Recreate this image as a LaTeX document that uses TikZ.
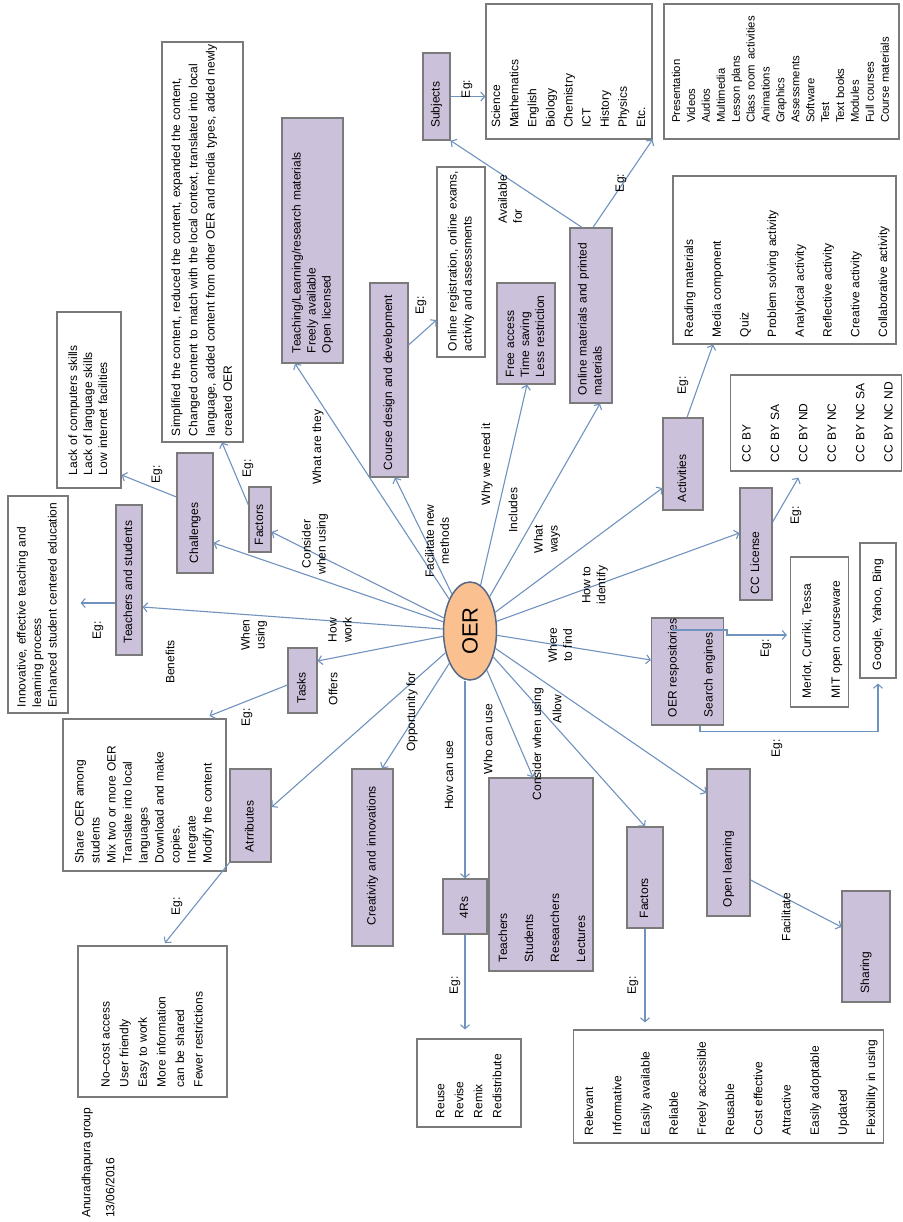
\documentclass[tikz,border=0pt]{standalone}
\usepackage{fontspec}
\setmainfont{Liberation Sans}
\usetikzlibrary{shapes.geometric,arrows.meta}
\definecolor{lav}{RGB}{204,193,218}
\definecolor{bordc}{RGB}{122,122,122}
\definecolor{arrc}{RGB}{112,146,190}
\definecolor{oerfill}{RGB}{250,192,144}
\definecolor{oerline}{RGB}{85,105,135}
\newcommand{\tl}[1]{\noindent\begin{tabular}{@{}l@{}}#1\end{tabular}}
\begin{document}
\begin{tikzpicture}[x=1pt,y=-1pt,
  base/.style={rotate=90, inner ysep=0pt, align=left, font=\fontsize{12}{15}\selectfont},
  pbox/.style={base, draw=bordc, fill=lav, line width=1.2pt},
  wbox/.style={base, draw=bordc, fill=white, line width=1.1pt},
  lbl/.style={rotate=90, inner sep=0pt, align=center, font=\fontsize{12}{15}\selectfont},
  arr/.style={draw=arrc, line width=1.1pt, -{Straight Barb[length=4pt,width=9pt]}},
  sz/.style n args={4}{minimum width=#1pt, minimum height=#2pt, inner xsep=#3pt, text width=#4pt},
]
\useasboundingbox (0,0) rectangle (902,1222);

% ---------- central node
\node[ellipse, draw=oerline, fill=oerfill, line width=1.5pt, minimum width=53pt, minimum height=98pt, inner sep=0pt] (oer) at (470,631) {\rotatebox{90}{\fontsize{22}{22}\selectfont OER}};

% ---------- purple boxes
\node[pbox, sz={245}{61}{10}{225}] (tlr) at (312.5,240.5) {\tl{Teaching/Learning/research materials\\Freely available\\Open licensed}};
\node[pbox, sz={194}{38}{7}{180}] (cdd) at (389,380) {\tl{Course design and development}};
\node[pbox, sz={101}{58}{7}{87}] (fa) at (526,333.5) {\tl{Free access\\Time saving\\Less restriction}};
\node[pbox, sz={175}{42}{8}{159}] (omp) at (591,315.5) {\tl{Online materials and printed\\materials}};
\node[pbox, sz={87}{27}{12}{63}] (subj) at (436.5,96.5) {\tl{Subjects}};
\node[pbox, sz={92}{40}{8}{76}] (act) at (683,464) {\tl{Activities}};
\node[pbox, sz={112}{32}{6}{100}] (ccl) at (756,544) {\tl{CC License}};
\node[pbox, sz={107}{69}{8}{91}, font=\fontsize{12}{36}\selectfont] (oerr) at (687.5,671.5) {\tl{OER respositories\\Search engines}};
\node[pbox, sz={147}{43}{9}{129}] (ol) at (728.5,842.5) {\tl{Open learning}};
\node[pbox, sz={101}{36}{10}{81}] (fac2) at (645,877.5) {\tl{Factors}};
\node[pbox, sz={111}{48}{9}{93}] (sh) at (866,946.5) {\tl{Sharing}};
\node[pbox, sz={193}{104}{9}{175}, font=\fontsize{12}{26}\selectfont] (who) at (541,874.5) {\tl{Teachers\\Students\\Researchers\\Lectures}};
\node[pbox, sz={55}{44}{16}{23}] (r4) at (465,906.5) {\tl{4Rs}};
\node[pbox, sz={177}{41}{21}{135}] (cre) at (372.5,857.5) {\tl{Creativity and innovations}};
\node[pbox, sz={93}{41}{10}{73}] (att) at (250.5,815.5) {\tl{Atrributes}};
\node[pbox, sz={65}{29}{10}{45}] (tasks) at (302.5,680.5) {\tl{Tasks}};
\node[pbox, sz={150}{26}{12}{126}] (ts) at (129,580) {\tl{Teachers and students}};
\node[pbox, sz={120}{36}{10}{100}] (chal) at (195,513) {\tl{Challenges}};
\node[pbox, sz={65}{22}{7}{51}] (fac1) at (260,519.5) {\tl{Factors}};

% ---------- white boxes
\node[wbox, sz={400}{81}{6}{388}, font=\fontsize{12}{17.3}\selectfont] (sa) at (202.5,242) {\tl{Simplified the content, reduced the content, expanded the content,\\Changed content to match with the local context, translated into local\\language, added content from other OER and media types, added newly\\created OER}};
\node[wbox, sz={176}{64}{13}{150}] (lb) at (89,400) {\tl{Lack of computers skills\\Lack of language skills\\Low internet facilities}};
\node[wbox, sz={217}{60}{6}{205}, font=\fontsize{12}{15.5}\selectfont] (inn) at (38,604.5) {\tl{Innovative, effective teaching and\\learning process\\Enhanced student centered education}};
\node[wbox, sz={152}{163}{8}{136}, font=\fontsize{12}{16}\selectfont] (dl) at (144.5,795) {\tl{Share OER among\\students\\Mix two or more OER\\Translate into local\\languages\\Download and make\\copies.\\Integrate\\Modify the content}};
\node[wbox, sz={151}{149}{10}{131}, font=\fontsize{12}{18.6}\selectfont] (el) at (152.5,1021.5) {\tl{No–cost access\\User friendly\\Easy to work\\More information\\can be shared\\Fewer restrictions}};
\node[wbox, sz={88}{104}{9}{70}, font=\fontsize{12}{19}\selectfont] (gl) at (469,1083) {\tl{Reuse\\Revise\\Remix\\Redistribute}};
\node[wbox, sz={113}{309}{8}{97}, font=\fontsize{12}{28.2}\selectfont] (hl) at (728.5,1086.5) {\tl{Relevant\\Informative\\Easily available\\Reliable\\Freely accessible\\Reusable\\Cost effective\\Attractive\\Easily adoptable\\Updated\\Flexibility in using}};
\node[wbox, sz={190}{48}{6}{178}] (rl) at (461,262) {\tl{Online registration, online exams,\\activity and assessments}};
\node[wbox, sz={135}{166}{11}{113}, font=\fontsize{12}{18.1}\selectfont] (sl) at (569,71.5) {\tl{Science\\Mathematics\\English\\Biology\\Chemistry\\ICT\\History\\Physics\\Etc.}};
\node[wbox, sz={135}{235}{16}{103}, font=\fontsize{11.3}{14.9}\selectfont] (ml) at (781.5,71.5) {\tl{Presentation\\Videos\\Audios\\Multimedia\\Lesson plans\\Class room\hspace{2pt} activities\\Animations\\Graphics\\Assessments\\Software\\Test\\Text books\\Modules\\Full courses\\Course materials}};
\node[wbox, sz={168}{223}{7}{154}, font=\fontsize{12}{27.7}\selectfont] (al) at (784.5,260) {\tl{Reading materials\\Media component\\Quiz\\Problem solving activity\\Analytical activity\\Reflective activity\\Creative activity\\Collaborative activity}};
\node[wbox, sz={96}{162}{9}{78}, font=\fontsize{12}{28.4}\selectfont] (cl) at (816,423) {\tl{CC BY\\CC BY SA\\CC BY ND\\CC BY NC\\CC BY NC SA\\CC BY NC ND}};
\node[wbox, sz={150}{57}{9}{132}, font=\fontsize{12}{29}\selectfont] (mer) at (819.5,632) {\tl{Merlot, Curriki, Tessa\\MIT open courseware}};
\node[wbox, sz={135}{36}{8}{119}] (gy) at (878,610.5) {\tl{Google, Yahoo, Bing}};

% ---------- connectors from OER
\draw[arr] (oer) -- (chal.south |- 0,543);
\draw[arr] (oer) -- (fac1.south |- 0,532);
\draw[arr] (oer) -- (tlr.west -| 295,0);
\draw[arr] (oer) -- (cdd.west -| 395,0);
\draw[arr] (oer) -- (fa.west -| 527,0);
\draw[arr] (oer) -- (omp.west -| 600,0);
\draw[arr] (oer) -- (act.north |- 0,488);
\draw[arr] (oer) -- (ccl.north |- 0,533);
\draw[arr] (oer) -- (oerr.north |- 0,660);
\draw[arr] (oer) -- (ol.north |- 0,793);
\draw[arr] (oer) -- (fac2.east -| 645,0);
\draw[arr] (oer) -- (who.east -| 533,0);
\draw[arr] (oer.south -| r4.east) -- (r4.east);
\draw[arr] (oer) -- (cre.east -| 382,0);
\draw[arr] (oer) -- (att.south |- 0,807);
\draw[arr] (oer) -- (tasks.south |- 0,661);
\draw[arr] (oer) -- (ts.south |- 0,607);

% ---------- secondary connectors
\draw[arr, shorten >=12pt] (ts.north |- 0,603) -- (inn.south |- 0,603);
\draw[arr] (chal.north |- 0,497) -- (lb.south |- 0,475);
\draw[arr] (fac1.north |- 0,505) -- (sa.west -| 222,0);
\draw[arr] (cdd.south |- 0,345) -- (rl.north |- 0,320);
\draw[arr] (omp.east -| 582,0) -- (subj.south west);
\draw[arr] (omp.east -| 593,0) -- (sl.south west);
\draw[arr] (subj.south) -- (sl.north |- subj.south);
\draw[arr] (act.east -| 687,0) -- (al.west -| 713,0);
\draw[arr, shorten >=7pt] (ccl.south |- 0,522) -- (cl.west -| 802,0);
\coordinate (rs) at (672,630);
\draw[arr, shorten >=3pt] (rs) -- ++(55,0) -- ++(0,5) -- (mer.north |- 0,635);
\draw[arr, shorten >=5pt] (oerr.west -| 700,0) -- ++(0,6) -| (gy.west -| 878,0);
\draw[arr] (ol.south |- 0,880) -- (sh.north |- 0,927);
\draw[arr, shorten >=7pt] (fac2.west) -- (hl.east -| fac2.west);
\draw[arr, shorten >=9pt] (r4.west) -- (gl.east -| r4.west);
\draw[arr, shorten >=7pt] (tasks.north |- 0,685) -- (dl.east -| 203,0);
\draw[arr, shorten >=3pt] (att.north west) -- (el.east -| 163,0);

% ---------- labels
\node[lbl] (l1) at (467,89) {Eg:};
\node[lbl, align=left] (l2) at (510,199) {Available\\for};
\node[lbl] (l3) at (621,183) {Eg:};
\node[lbl] (l4) at (421,305) {Eg:};
\node[lbl] (l5) at (318,447) {What are they};
\node[lbl] (l6) at (315,544) {Consider\\when using};
\node[lbl] (l7) at (437,541) {Facilitate new\\methods};
\node[lbl] (l8) at (487,464) {Why we need it};
\node[lbl] (l9) at (513,510) {Includes};
\node[lbl] (l10) at (547,539) {What\\ways};
\node[lbl] (l11) at (595,585) {How to\\identify};
\node[lbl] (l12) at (683,385) {Eg:};
\node[lbl] (l13) at (796,515) {Eg:};
\node[lbl] (l14) at (560,645) {Where\\to find};
\node[lbl] (l15) at (766,648) {Eg:};
\node[lbl] (l16) at (777,748) {Eg:};
\node[lbl] (l17) at (340,630) {How\\work};
\node[lbl] (l18) at (333,689) {Offers};
\node[lbl] (l19) at (254,635) {When\\using};
\node[lbl] (l20) at (170,662) {Benefits};
\node[lbl] (l21) at (98,630) {Eg:};
\node[lbl] (l22) at (247,717) {Eg:};
\node[lbl] (l23) at (177,906) {Eg:};
\node[lbl] (l24) at (157,474) {Eg:};
\node[lbl] (l25) at (248,468) {Eg:};
\node[lbl] (l26) at (412,712) {Opportunity for};
\node[lbl] (l27) at (449,775) {How can use};
\node[lbl] (l28) at (488,739) {Who can use};
\node[lbl] (l29) at (538,744) {Consider when using};
\node[lbl] (l30) at (557,709) {Allow};
\node[lbl] (l31) at (455,985) {Eg:};
\node[lbl] (l32) at (633,985) {Eg:};
\node[lbl] (l33) at (786,917) {Facilitate};
\node[lbl, align=left, anchor=west, font=\fontsize{12}{24}\selectfont] (foot) at (98,1218) {Anuradhapura group\\13/06/2016};
\end{tikzpicture}
\end{document}
